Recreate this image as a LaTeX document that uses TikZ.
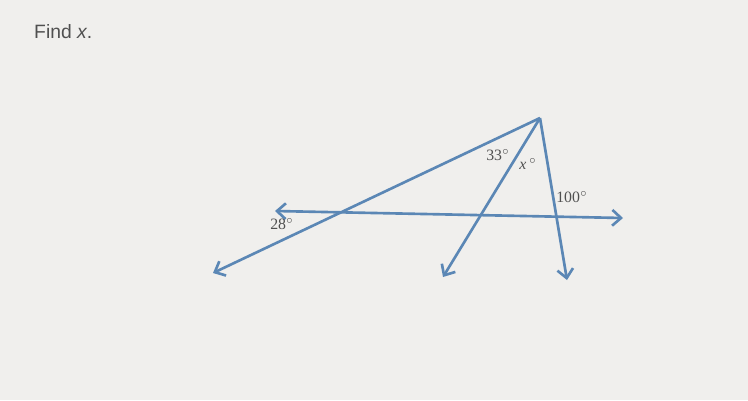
\documentclass[tikz,border=0pt]{standalone}
\usepackage{fontspec}
\setmainfont{Liberation Serif}
\newfontfamily\labelsans{Liberation Sans}
\usetikzlibrary{arrows.meta}
\definecolor{rayblue}{HTML}{5B87B5}
\definecolor{paper}{HTML}{F0EFED}
\definecolor{ink}{HTML}{505050}
\tikzset{
    ray/.style={rayblue,line width=1.5pt,-{Straight Barb[length=5pt,width=9pt]}},
    anglabel/.style={text=ink,font=\fontsize{9}{10}\selectfont,inner sep=1pt}
}
\begin{document}
\begin{tikzpicture}[x=0.02cm,y=-0.02cm]
        \fill[paper] (0,0) rectangle (748,400);
        \useasboundingbox (0,0) rectangle (748,400);
        %% title
        \node[anchor=west,text=ink,font=\labelsans\fontsize{11}{13}\selectfont] (title) at (28,32) {Find \textit{x}.};
        %% points
        \coordinate (apex) at (540,118);
        \coordinate (leftend) at (213,273);
        \coordinate (midend) at (443,277);
        \coordinate (rightend) at (567,280);
        \coordinate (hleft) at (275,211);
        \coordinate (hright) at (623,218);
        %% rays from the apex
        \foreach \e in {leftend,midend,rightend}
            \draw[ray] (apex) -- (\e);
        %% transversal, arrows both ways
        \draw[ray,{Straight Barb[length=5pt,width=9pt]}-{Straight Barb[length=5pt,width=9pt]}] (hleft) -- (hright);
        %% labels
        \node[anchor=center,anglabel] (a33) at (498,155) {33$^\circ$};
        \node[anchor=center,anglabel] (ax) at (528,164) {\textit{x}\,$^\circ$};
        \node[anchor=center,anglabel] (a100) at (572,197) {100$^\circ$};
        \node[anchor=center,anglabel] (a28) at (282,224) {28$^\circ$};
    \end{tikzpicture}
\end{document}
